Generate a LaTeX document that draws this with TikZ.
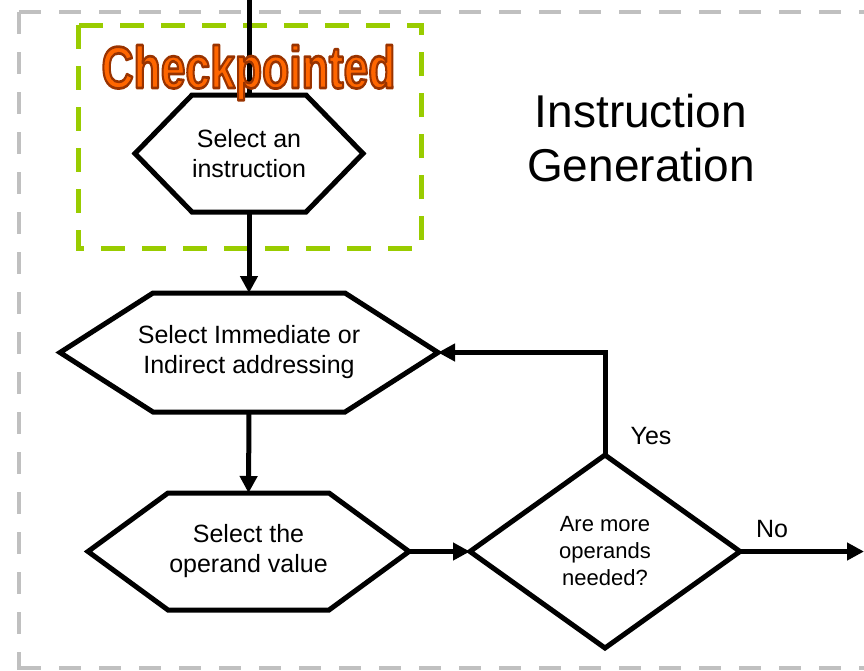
\documentclass[tikz,border=0pt]{standalone}
\usepackage{fontspec}
\setmainfont{Liberation Sans}
\usetikzlibrary{arrows.meta}

\definecolor{framegray}{HTML}{C0C0C0}
\definecolor{ckgreen}{HTML}{99CC00}
\definecolor{ckorange}{HTML}{FF6600}
\definecolor{ckrim}{HTML}{993300}

% hexagon outline around a (borderless) box node: #1 node name, #2 chamfer width
\newcommand\hexoutline[2]{%
  \draw[shapeline] (#1.west) -- ([xshift=#2]#1.north west) -- ([xshift=-#2]#1.north east)
    -- (#1.east) -- ([xshift=-#2]#1.south east) -- ([xshift=#2]#1.south west) -- cycle;}
% diamond outline around a box node
\newcommand\diamondoutline[1]{%
  \draw[shapeline] (#1.west) -- (#1.north) -- (#1.east) -- (#1.south) -- cycle;}
% filled and stroked lettering (PDF text render mode 2)
\newcommand\rimtext[1]{%
  {\color{ckorange}\special{pdf:literal 0.6 0.2 0 RG 2.6 w 1 j 2 Tr}#1\special{pdf:literal 0 Tr}}}

\tikzset{
  shapeline/.style={line width=5pt, black, line join=miter},
  conn/.style={line width=5pt, black},
  arr/.style={conn, -{Triangle[length=17pt,width=17pt]}},
  box/.style={inner sep=0pt, outer sep=0pt, align=center,
    font=\fontsize{25}{30}\selectfont},
  lbl/.style={inner sep=0pt, font=\fontsize{25}{30}\selectfont, anchor=base},
}

\begin{document}
\begin{tikzpicture}[x=1pt, y=-1pt]
  \useasboundingbox (0,0) rectangle (864,670);
  \clip (0,0) rectangle (864,670);

  % outer frame (open to the right)
  \begin{scope}[framegray, line width=4.5pt, dash pattern=on 22pt off 18pt]
    \draw (19,12) -- (864,12);
    \draw (19,12) -- (19,670);
    \draw (19,668) -- (864,668);
  \end{scope}

  % checkpointed region
  \draw[ckgreen, line width=5pt, dash pattern=on 24pt off 17pt] (78,25) rectangle (421,248);

  % title
  \node[inner sep=0pt, align=center, font=\fontsize{46}{54}\selectfont]
    (title) at (641,138.5) {Instruction\\Generation};

  % process boxes
  \node[box, minimum width=228pt, minimum height=117pt] (hex1) at (249,153.5)
    {Select an\\instruction};
  \node[box, minimum width=378pt, minimum height=119pt] (hex2) at (249,352.5)
    {Select Immediate or\\Indirect addressing};
  \node[box, minimum width=321pt, minimum height=117pt] (hex3) at (248.5,551.5)
    {Select the\\operand value};
  \node[box, minimum width=270pt, minimum height=193pt,
        font=\fontsize{22}{27}\selectfont] (dec) at (605,551.5)
    {Are more\\operands\\needed?};

  \hexoutline{hex1}{57pt}
  \hexoutline{hex2}{93pt}
  \hexoutline{hex3}{80pt}
  \diamondoutline{dec}

  % connectors
  \coordinate (entry) at (249,0);
  \coordinate (exit) at (864,551.5);
  \draw[conn] (entry) -- (hex1.north);
  \draw[arr] (hex1.south) -- (hex2.north);
  \draw[arr] (hex2.south) -- (hex3.north);
  \draw[arr] (hex3.east) -- (dec.west);
  \draw[arr] (dec.north) |- (hex2.east);
  \draw[arr] (dec.east) -- (exit);

  \node[lbl] (yes) at (651,444) {Yes};
  \node[lbl] (no) at (772,537) {No};

  % checkpoint banner
  \node[inner sep=0pt, anchor=base] (ckpt) at (248.5,88)
    {\scalebox{0.78}[1.04]{\fontsize{57}{60}\selectfont\bfseries\rimtext{Checkpointed}}};
\end{tikzpicture}
\end{document}
